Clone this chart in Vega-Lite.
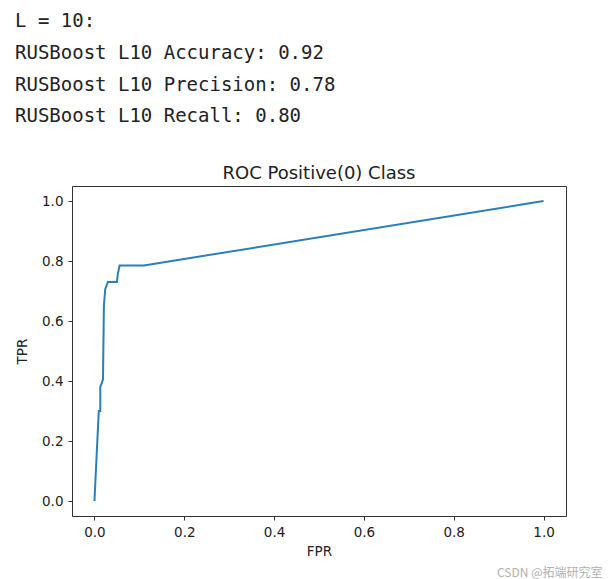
{
  "$schema": "https://vega.github.io/schema/vega-lite/v6.json",
  "padding": {"left": 15, "top": 12, "right": 0, "bottom": 0},
  "background": "white",
  "config": {
    "view": {"stroke": "#333", "strokeWidth": 1},
    "font": "DejaVu Sans",
    "axis": {"domain": false, "grid": false, "tickColor": "#333", "tickSize": 4, "labelColor": "#222", "titleColor": "#222", "labelFontSize": 13.5, "titleFontSize": 13.5, "titleFontWeight": "normal", "labelFont": "DejaVu Sans", "titleFont": "DejaVu Sans"},
    "concat": {"spacing": 0}
  },
  "title": {
    "text": ["L = 10:", "RUSBoost L10 Accuracy: 0.92", "RUSBoost L10 Precision: 0.78", "RUSBoost L10 Recall: 0.80"],
    "anchor": "start",
    "frame": "bounds",
    "font": "DejaVu Sans Mono",
    "fontSize": 19,
    "fontWeight": "normal",
    "lineHeight": 31.7,
    "color": "#222",
    "offset": 38
  },
  "vconcat": [
    {
      "title": {"text": "CSDN @拓端研究室", "orient": "bottom", "anchor": "end", "font": "Noto Sans CJK SC", "fontSize": 12, "fontWeight": "normal", "color": "#b0b0b0", "dx": 36, "offset": 9},
      "vconcat": [
        {
          "title": {"text": "ROC Positive(0) Class", "fontSize": 18, "fontWeight": "normal", "color": "#222", "font": "DejaVu Sans", "offset": 3},
          "width": 494,
          "height": 330,
          "data": {
            "values": [
              {"i": 0, "fpr": 0.0, "tpr": 0.0},
              {"i": 1, "fpr": 0.0096, "tpr": 0.30},
              {"i": 2, "fpr": 0.013, "tpr": 0.30},
              {"i": 3, "fpr": 0.013, "tpr": 0.38},
              {"i": 4, "fpr": 0.019, "tpr": 0.405},
              {"i": 5, "fpr": 0.021, "tpr": 0.65},
              {"i": 6, "fpr": 0.024, "tpr": 0.706},
              {"i": 7, "fpr": 0.030, "tpr": 0.73},
              {"i": 8, "fpr": 0.050, "tpr": 0.73},
              {"i": 9, "fpr": 0.052, "tpr": 0.757},
              {"i": 10, "fpr": 0.056, "tpr": 0.785},
              {"i": 11, "fpr": 0.11, "tpr": 0.785},
              {"i": 12, "fpr": 1.0, "tpr": 1.0}
            ]
          },
          "mark": {"type": "line", "color": "#2a7fba", "strokeWidth": 2},
          "encoding": {
            "x": {"field": "fpr", "type": "quantitative", "title": "FPR",
                  "scale": {"domain": [-0.05, 1.05], "nice": false, "zero": false},
                  "axis": {"values": [0, 0.2, 0.4, 0.6, 0.8, 1.0], "format": ".1f", "labelPadding": 5, "titlePadding": 6}},
            "y": {"field": "tpr", "type": "quantitative", "title": "TPR",
                  "scale": {"domain": [-0.05, 1.05], "nice": false, "zero": false},
                  "axis": {"values": [0, 0.2, 0.4, 0.6, 0.8, 1.0], "format": ".1f", "labelPadding": 5, "titlePadding": 12}},
            "order": {"field": "i", "type": "quantitative"}
          }
        }
      ]
    }
  ]
}
